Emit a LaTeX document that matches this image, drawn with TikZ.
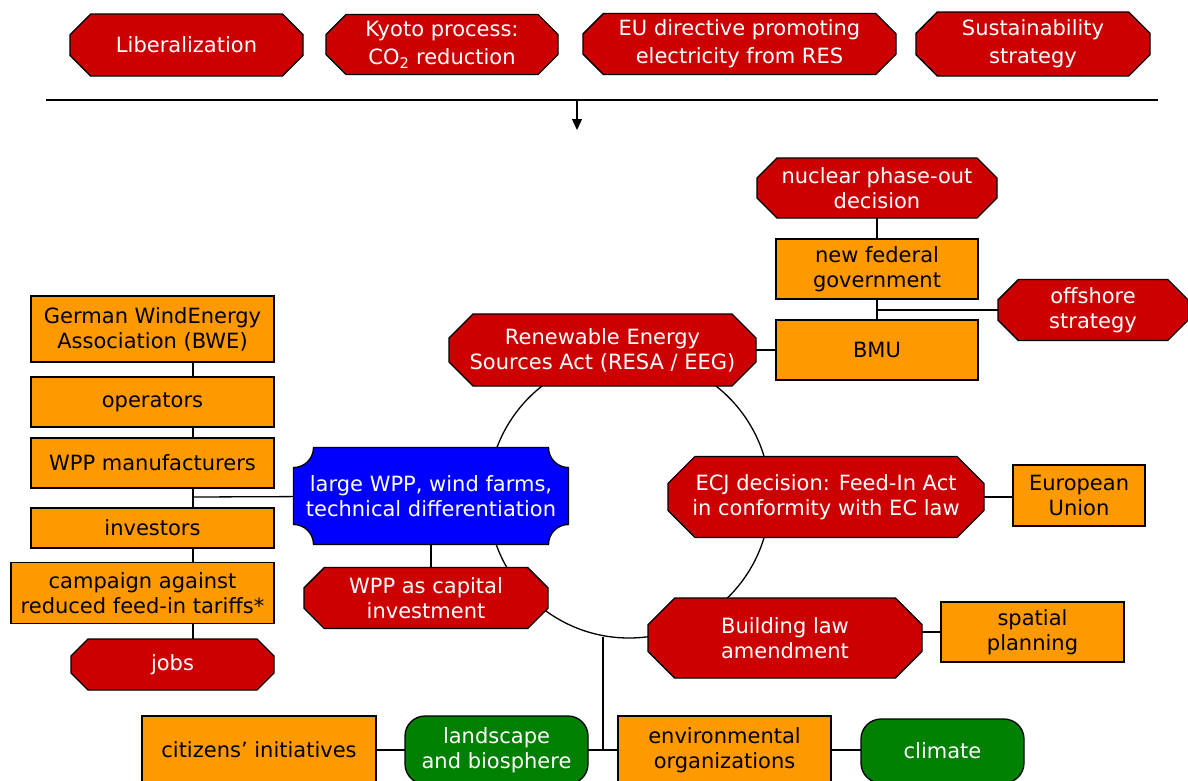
\documentclass[tikz,border=0pt]{standalone}
\usepackage{fontspec}
\setmainfont{DejaVu Sans}
\usetikzlibrary{calc,arrows.meta}
\pgfdeclarelayer{conn}
\pgfdeclarelayer{shape}
\pgfsetlayers{conn,shape,main}
\definecolor{cred}{RGB}{204,0,0}
\definecolor{corange}{RGB}{255,153,0}
\definecolor{cblue}{RGB}{0,0,255}
\definecolor{cgreen}{RGB}{0,128,0}
\tikzset{
  base/.style={align=center, font=\fontsize{21}{25}\selectfont, inner sep=0pt, outer sep=0pt},
  toprow/.style={font=\fontsize{21}{28}\selectfont},
  orbox/.style={base, draw=black, fill=corange, text=black, line width=1.3pt},
  grbox/.style={base, draw=black, fill=cgreen, text=white, rounded corners=20pt, line width=1.3pt},
  whitetxt/.style={base, text=white},
  shp/.style={draw=black, line width=1.3pt},
  link/.style={draw=black, line width=1.3pt},
}
\newcommand\rednode[7][]{%
  \node[whitetxt, #1, minimum width=#5pt, minimum height=#6pt] (#2) at (#3,#4) {#7};
  \pgfmathsetmacro\octc{#6/3}%
  \begin{pgfonlayer}{shape}
  \filldraw[shp, fill=cred]
    ($(#2.north west)+(\octc pt,0)$) -- ($(#2.north east)+(-\octc pt,0)$)
    -- ($(#2.north east)+(0,-\octc pt)$) -- ($(#2.south east)+(0,\octc pt)$)
    -- ($(#2.south east)+(-\octc pt,0)$) -- ($(#2.south west)+(\octc pt,0)$)
    -- ($(#2.south west)+(0,\octc pt)$) -- ($(#2.north west)+(0,-\octc pt)$) -- cycle;
  \end{pgfonlayer}}
\newcommand\bluenode[6]{%
  \node[whitetxt, minimum width=#4pt, minimum height=#5pt] (#1) at (#2,#3) {#6};
  \begin{pgfonlayer}{shape}
  \filldraw[shp, fill=cblue]
    ($(#1.north west)+(20pt,0)$) -- ($(#1.north east)+(-20pt,0)$)
    arc[start angle=180, end angle=270, radius=20pt]
    -- ($(#1.south east)+(0,20pt)$)
    arc[start angle=90, end angle=180, radius=20pt]
    -- ($(#1.south west)+(20pt,0)$)
    arc[start angle=0, end angle=90, radius=20pt]
    -- ($(#1.north west)+(0,-20pt)$)
    arc[start angle=270, end angle=360, radius=20pt] -- cycle;
  \end{pgfonlayer}}
\begin{document}
\begin{tikzpicture}[x=1pt, y=-1pt]
\clip (0,0) rectangle (1188,780);
% top row
\rednode[toprow]{lib}{186.5}{45}{233}{62}{Liberalization}
\rednode[toprow]{kyo}{442}{44.5}{232}{60}{Kyoto process:\\CO\textsubscript{2} reduction}
\rednode[toprow]{eud}{739.5}{44}{313}{61}{EU directive promoting\\electricity from RES}
\rednode[toprow]{sus}{1033}{44}{234}{64}{Sustainability\\strategy}
\coordinate (hl) at (46,100);
\coordinate (hr) at (1158,100);
\coordinate (ha) at (577,100);
\coordinate (hb) at (577,130);
% right column
\rednode{nuc}{877}{188}{240}{60}{nuclear phase-out\\decision}
\node[orbox, minimum width=202pt, minimum height=60pt] (nfg) at (877,269) {new federal\\government};
\node[orbox, minimum width=202pt, minimum height=60pt] (bmu) at (877,350) {BMU};
\rednode{off}{1093}{310}{190}{61}{offshore\\strategy}
\rednode{resa}{602.5}{350}{307}{72}{Renewable Energy\\Sources Act (RESA / EEG)}
\rednode{ecj}{826}{497}{316}{81}{ECJ decision: Feed-In Act\\in conformity with EC law}
\node[orbox, minimum width=132pt, minimum height=61pt] (eu) at (1079,495.5) {European\\Union};
\bluenode{b}{431}{496}{275}{97}{large WPP, wind farms,\\technical differentiation}
\rednode{cap}{426}{598}{244}{61}{WPP as capital\\investment}
\rednode{bld}{785}{638}{274}{80}{Building law\\amendment}
\node[orbox, minimum width=183pt, minimum height=60pt] (spa) at (1032.5,632) {spatial\\planning};
% left column
\node[orbox, minimum width=243pt, minimum height=66pt] (bwe) at (152.5,329) {German WindEnergy\\Association (BWE)};
\node[orbox, minimum width=243pt, minimum height=50pt] (opr) at (152.5,402) {operators};
\node[orbox, minimum width=243pt, minimum height=50pt] (man) at (152.5,463) {WPP manufacturers};
\node[orbox, minimum width=243pt, minimum height=40pt] (inv) at (152.5,528) {investors};
\node[orbox, minimum width=263pt, minimum height=61pt] (cam) at (142.5,593) {campaign against\\reduced feed-in tariffs*};
\rednode{jobs}{172.5}{664.5}{203}{51}{jobs}
\coordinate (lx) at (193,497);
% bottom row
\node[orbox, minimum width=234pt, minimum height=68pt] (cit) at (259,750) {citizens’ initiatives};
\node[grbox, minimum width=183pt, minimum height=68pt] (land) at (496.5,750) {landscape\\and biosphere};
\node[orbox, minimum width=213pt, minimum height=68pt] (env) at (724.5,750) {environmental\\organizations};
\node[grbox, minimum width=163pt, minimum height=64pt] (clim) at (942.5,751) {climate};
\coordinate (cc) at (629,497);
\coordinate (cbot) at (603,637);
% connectors
\begin{pgfonlayer}{conn}
\draw[link] (hl) -- (hr);
\draw[link, -{Triangle[length=11pt,width=10pt]}] (ha) -- (hb);
\draw[link] (cc) circle[radius=141];
\draw[link] (nuc) -- (nfg);
\draw[link] (nfg) -- (bmu);
\draw[link] (nfg |- off) -- (off);
\draw[link] (resa) -- (bmu);
\draw[link] (ecj) -- (ecj -| eu);
\draw[link] (b) -- (b |- cap);
\draw[link] (spa) -- (spa -| bld);
\draw[link] (cit) -- (land);
\draw[link] (land) -- (env);
\draw[link] (env) -- (env -| clim);
\draw[link] (cbot) -- (cbot |- land);
\draw[link] (bwe -| lx) -- (jobs -| lx);
\draw[link] (lx) -- (b);
\end{pgfonlayer}
\end{tikzpicture}
\end{document}
